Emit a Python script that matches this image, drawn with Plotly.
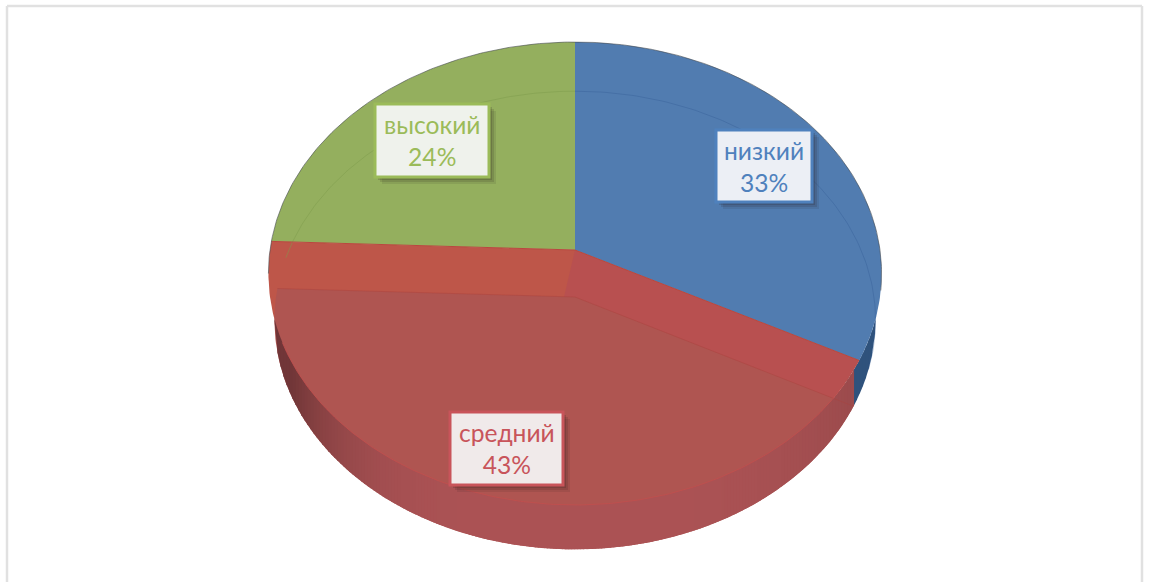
import numpy as np
import plotly.graph_objects as go

categories = ["низкий", "средний", "высокий"]
values = [32.6, 43.0, 24.4]
colors = ["#4F81BD", "#C8545A", "#9BBB59"]

WIDTH, HEIGHT = 1150, 582
APEX = (575, 250)
TOP = dict(cx=575, cy=250, a=305, b=229.1, k=0.1015)
BOT = dict(cx=575, cy=297, a=299, b=226.7, k=0.1015)


def pt(th, s):
    th = np.radians(th)
    d = 1 + s["k"] * np.cos(th)
    return s["cx"] + s["a"] * np.sin(th) / d, s["cy"] - s["b"] * np.cos(th) / d


def wedge(t0, t1, s):
    th = np.linspace(t0, t1, 160)
    x, y = pt(th, s)
    return [s["cx"], *x, s["cx"]], [s["cy"], *y, s["cy"]]


def poly(fig, x, y, fill, line=None, lw=0):
    fig.add_trace(go.Scatter(x=x, y=y, mode="lines", fill="toself", fillcolor=fill,
                             line=dict(color=line or fill, width=lw), hoverinfo="skip", showlegend=False))


def curve(fig, x, y, color, lw=1):
    fig.add_trace(go.Scatter(x=x, y=y, mode="lines", line=dict(color=color, width=lw),
                             hoverinfo="skip", showlegend=False))


edges = np.concatenate([[0], np.cumsum(values) / sum(values) * 360])
b_t0, b_t1 = edges[0], edges[1]
r_t0, r_t1 = edges[1], edges[2]
g_t0, g_t1 = edges[2], edges[3]

fig = go.Figure()

# lower rim lookup (between the widest points of the projected circle)
th_low = np.linspace(96, 264, 500)
xt, yt = pt(th_low, TOP)
xb, yb = pt(th_low, BOT)
ot, ob = np.argsort(xt), np.argsort(xb)
split_x = pt(r_t0, BOT)[0]
xs = np.arange(xb.min(), xb.max() + 3, 3.0)


def strips(mask_fn, shade):
    for x0 in xs:
        if not mask_fn(x0):
            continue
        x1 = x0 + 3.6
        grid = np.clip(np.array([x0, x1]), xb.min(), xb.max())
        top = np.interp(grid, xt[ot], yt[ot])
        bot = np.interp(grid, xb[ob], yb[ob])
        if bot[0] <= top[0] and bot[1] <= top[1]:
            continue
        poly(fig, [grid[0], grid[1], grid[1], grid[0]], [top[0], top[1], bot[1], bot[0]], shade(x0))


def red_shade(x):
    t = min(abs(x - 590) / 300, 1)
    f = 1 - 0.34 * t ** 5
    if x > 575:
        f = 1 - 0.14 * t ** 3
    return f"rgb({int(172*f)},{int(83*f)},{int(85*f)})"


# blue side wall
strips(lambda x: x >= split_x - 1, lambda x: "#2F527C")

# top faces
poly(fig, *wedge(b_t0, b_t1, TOP), "#517CB0")
poly(fig, *wedge(g_t0, g_t1, TOP), "#94AF5E")
poly(fig, *wedge(r_t0, r_t1, TOP), "#BE5649")
poly(fig, *wedge(r_t0, 190, TOP), "#B85050")
# floor of the red slice, seen through the top face
poly(fig, *wedge(r_t0, r_t1, BOT), "#AF5551")
# red side wall
strips(lambda x: x < split_x - 1, red_shade)

# floor rim seen through the blue and green faces
x, y = pt(np.linspace(b_t0, 108, 100), BOT)
curve(fig, x, y, "rgba(50,90,145,0.35)")
x, y = pt(np.linspace(g_t0 + 8, g_t1, 100), BOT)
curve(fig, x, y, "rgba(125,155,75,0.5)")

# slice edges
ax, ay = pt(np.array([r_t0, r_t1]), TOP)
curve(fig, [ax[0], APEX[0], ax[1]], [ay[0], APEX[1], ay[1]], "#B8483F")
bx, by = pt(np.array([r_t0, r_t1]), BOT)
curve(fig, [bx[0], BOT["cx"], bx[1]], [by[0], BOT["cy"], by[1]], "rgba(170,65,60,0.4)")
# front rim of top face
x, y = pt(np.linspace(r_t0 + 6, r_t1 - 25, 200), TOP)
curve(fig, x, y, "rgba(194,79,77,0.8)")
# outline on far edge
x, y = pt(np.linspace(g_t0 - 8, 360 + 100, 300), TOP)
curve(fig, x, y, "rgba(70,75,80,0.6)")

# label boxes
boxes = [(716, 812, 130, 202, "#ECEFF5"), (450, 563, 412, 485, "#F0EAEA"), (375, 489, 104, 177, "#EFF2EC")]
shapes = []
annotations = []
for cat, val, col, (x0, x1, y0, y1, bg) in zip(categories, values, colors, boxes):
    for off, op in ((7, 0.10), (5, 0.14), (3, 0.18)):
        shapes.append(dict(type="rect", x0=x0 + off, x1=x1 + off, y0=y0 + off, y1=y1 + off,
                           fillcolor=f"rgba(40,30,30,{op})", line=dict(width=0)))
    shapes.append(dict(type="rect", x0=x0, x1=x1, y0=y0, y1=y1, fillcolor=bg, line=dict(color=col, width=3)))
    annotations.append(dict(x=(x0 + x1) / 2, y=(y0 + y1) / 2, text=f"{cat}<br>{val:.0f}%", showarrow=False,
                            xanchor="center", yanchor="middle", align="center",
                            font=dict(family="Lato, Noto Sans, sans-serif", size=24.6, color=col)))

# chart frame
frame = "#E1E1E1"
for x0, y0, x1, y1 in [(7, 6, 1142, 6), (7, 6, 7, 590), (1142, 6, 1142, 590)]:
    shapes.append(dict(type="line", x0=x0, y0=y0, x1=x1, y1=y1, line=dict(color=frame, width=2.5)))

fig.update_layout(
    width=WIDTH, height=HEIGHT, margin=dict(l=0, r=0, t=0, b=0),
    paper_bgcolor="white", plot_bgcolor="white", showlegend=False,
    xaxis=dict(range=[0, WIDTH], visible=False, fixedrange=True),
    yaxis=dict(range=[HEIGHT, 0], visible=False, fixedrange=True),
    shapes=shapes, annotations=annotations,
)
fig.write_html("out.html", config={"displayModeBar": False},
               post_script="document.body.style.margin='0';document.body.style.overflow='hidden';")
